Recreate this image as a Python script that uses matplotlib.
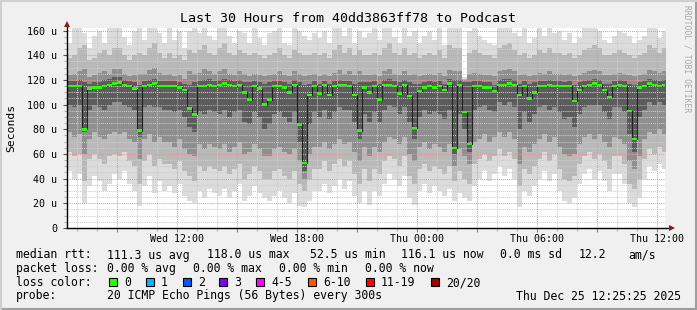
import numpy as np
import matplotlib
matplotlib.use("Agg")
import matplotlib.pyplot as plt
from matplotlib.lines import Line2D
from matplotlib.patches import Rectangle

W, H = 697, 310
mono = "DejaVu Sans Mono"

# 15 minute columns, x in hours since Wed 00:00
t_start = 6.5
step_h = 0.25

median = [115, 115, 115, 80, 113, 114, 114, 115, 116, 117,
          118, 116, 115, 113, 79, 115, 116, 117, 115, 115,
          115, 115, 114, 112, 97, 92, 115, 115, 116, 115,
          116, 117, 116, 115, 116, 110, 104, 115, 113, 100,
          104, 115, 115, 114, 110, 116, 84, 52.5, 108, 115,
          109, 116, 108, 115, 116, 116, 115, 108, 79, 114,
          110, 115, 104, 116, 116, 115, 109, 116, 107, 81,
          111, 114, 115, 114, 115, 112, 117, 65, 116, 94,
          68, 115, 115, 114, 114, 111, 116, 116, 117, 116,
          108, 115, 105, 110, 115, 115, 116, 115, 115, 115,
          115, 103, 112, 115, 116, 117, 116, 112, 106, 115,
          116, 115, 95, 72, 114, 115, 117, 116, 115, 116.1]

# smoke bands (sorted pings): outer min/max ... inner
ping_min = [46, 40, 44, 20, 34, 42, 38, 30, 36, 44,
            40, 46, 36, 30, 18, 34, 42, 28, 38, 30,
            34, 28, 36, 26, 22, 20, 30, 24, 32, 28,
            26, 32, 24, 30, 36, 22, 26, 34, 28, 24,
            22, 26, 30, 24, 20, 28, 18, 17, 22, 30,
            30, 36, 28, 34, 40, 32, 38, 26, 20, 30,
            19, 30, 26, 36, 44, 40, 34, 42, 24, 19,
            30, 36, 28, 34, 30, 26, 32, 22, 28, 24,
            22, 34, 40, 46, 38, 44, 50, 42, 48, 40,
            17, 30, 26, 34, 40, 46, 38, 44, 30, 22,
            20, 24, 36, 44, 48, 40, 46, 38, 30, 44,
            44, 36, 20, 17, 24, 40, 50, 46, 52, 48]
ping_max = [150, 162, 164, 158, 146, 156, 160, 150, 162, 164,
            162, 155, 148, 160, 164, 152, 162, 164, 158, 150,
            162, 152, 160, 146, 160, 164, 158, 164, 156, 152,
            164, 164, 156, 150, 160, 158, 150, 162, 154, 148,
            158, 160, 164, 150, 148, 162, 160, 156, 152, 158,
            154, 160, 150, 162, 164, 156, 162, 150, 160, 154,
            158, 162, 152, 164, 164, 155, 150, 162, 156, 160,
            150, 156, 160, 152, 162, 148, 164, 162, 164, 122,
            160, 162, 156, 152, 150, 148, 162, 164, 164, 158,
            156, 162, 150, 154, 162, 156, 164, 158, 160, 152,
            158, 150, 154, 162, 164, 164, 160, 152, 150, 156,
            160, 158, 156, 150, 152, 156, 164, 162, 154, 160]
band2_lo = [62, 58, 60, 38, 56, 60, 56, 52, 58, 60,
            58, 62, 54, 50, 36, 54, 60, 50, 56, 52,
            52, 48, 54, 46, 42, 38, 50, 46, 50, 48,
            46, 50, 44, 48, 52, 40, 44, 50, 46, 40,
            40, 46, 48, 42, 40, 46, 36, 30, 40, 48,
            48, 54, 46, 52, 56, 50, 54, 44, 36, 48,
            38, 48, 44, 54, 58, 56, 50, 58, 42, 36,
            48, 52, 46, 50, 48, 44, 50, 38, 46, 40,
            36, 52, 56, 60, 54, 58, 64, 58, 62, 56,
            34, 48, 44, 50, 56, 62, 54, 60, 48, 40,
            38, 42, 52, 58, 62, 56, 60, 54, 48, 58,
            58, 52, 36, 32, 40, 56, 64, 60, 66, 62]
band2_hi = [138, 140, 146, 148, 136, 138, 142, 144, 140, 146,
            146, 140, 136, 140, 142, 140, 146, 150, 142, 138,
            142, 138, 140, 136, 144, 142, 144, 148, 142, 140,
            146, 150, 142, 140, 144, 142, 140, 142, 140, 138,
            140, 142, 146, 140, 138, 144, 142, 140, 140, 142,
            140, 142, 138, 144, 148, 142, 146, 140, 144, 140,
            140, 142, 140, 146, 150, 142, 140, 146, 140, 142,
            138, 140, 142, 140, 144, 138, 148, 146, 146, 121,
            142, 144, 142, 140, 140, 138, 146, 148, 150, 144,
            140, 142, 138, 140, 144, 142, 146, 142, 142, 140,
            142, 138, 140, 144, 146, 148, 146, 140, 140, 142,
            144, 142, 140, 138, 140, 142, 148, 146, 142, 146]
band3_lo = [78, 74, 76, 60, 72, 78, 74, 72, 76, 78,
            76, 78, 72, 70, 56, 72, 76, 70, 74, 70,
            70, 66, 72, 64, 60, 58, 68, 64, 68, 66,
            64, 68, 62, 66, 70, 60, 62, 68, 64, 58,
            58, 64, 66, 62, 60, 64, 54, 40, 60, 66,
            66, 70, 64, 68, 72, 68, 70, 62, 54, 66,
            58, 66, 62, 70, 74, 72, 68, 74, 60, 54,
            66, 70, 64, 68, 66, 62, 68, 50, 64, 58,
            52, 70, 72, 76, 70, 74, 78, 74, 78, 72,
            52, 66, 62, 68, 72, 76, 70, 74, 66, 60,
            58, 60, 68, 74, 76, 72, 76, 70, 66, 74,
            72, 68, 54, 48, 58, 72, 78, 76, 80, 76]
band3_hi = [124, 125, 127, 129, 122, 124, 126, 127, 125, 129,
            129, 125, 123, 124, 125, 125, 128, 130, 126, 124,
            125, 123, 124, 121, 127, 125, 126, 129, 127, 125,
            127, 129, 125, 124, 127, 125, 123, 125, 124, 123,
            124, 125, 127, 124, 123, 127, 125, 123, 124, 125,
            123, 125, 123, 126, 128, 125, 127, 124, 127, 124,
            124, 125, 123, 127, 129, 125, 124, 127, 124, 125,
            123, 124, 125, 124, 126, 123, 128, 127, 127, 120,
            125, 126, 125, 124, 124, 123, 127, 128, 129, 127,
            124, 125, 123, 124, 126, 125, 127, 125, 125, 124,
            125, 123, 124, 126, 127, 128, 127, 124, 124, 125,
            126, 125, 124, 123, 124, 125, 128, 127, 126, 127]
core_lo = [100, 98, 100, 78, 96, 100, 98, 96, 100, 102,
           102, 100, 98, 96, 74, 98, 100, 98, 98, 96,
           96, 94, 96, 90, 82, 78, 94, 92, 96, 94,
           92, 96, 90, 94, 96, 86, 84, 94, 90, 80,
           84, 92, 94, 90, 86, 94, 70, 46, 84, 94,
           90, 96, 88, 94, 98, 96, 96, 86, 72, 92,
           86, 94, 86, 96, 100, 98, 92, 98, 86, 72,
           90, 96, 92, 94, 92, 88, 96, 60, 92, 80,
           62, 96, 98, 100, 96, 94, 102, 100, 102, 98,
           80, 94, 86, 92, 98, 100, 96, 98, 94, 88,
           90, 82, 92, 98, 100, 100, 100, 94, 88, 98,
           98, 94, 76, 62, 90, 96, 102, 100, 102, 100]
core_hi = [119, 119, 120, 118, 117, 118, 118, 120, 121, 122,
           122, 120, 119, 118, 116, 119, 120, 121, 119, 119,
           119, 119, 118, 117, 116, 118, 119, 120, 121, 119,
           120, 121, 120, 119, 120, 118, 118, 119, 118, 117,
           118, 119, 119, 118, 117, 120, 118, 116, 117, 119,
           117, 119, 117, 119, 120, 119, 119, 117, 118, 118,
           118, 119, 117, 120, 121, 119, 118, 120, 118, 117,
           117, 118, 119, 118, 119, 117, 121, 120, 120, 118,
           118, 119, 119, 118, 118, 116, 120, 121, 121, 120,
           117, 119, 117, 118, 119, 119, 120, 119, 119, 118,
           119, 116, 118, 119, 120, 121, 120, 117, 117, 119,
           120, 119, 117, 116, 118, 119, 121, 120, 119, 120]

smoke_layers = [(ping_min, ping_max, "#dcdcdc"),
                (band2_lo, band2_hi, "#b9b9b9"),
                (band3_lo, band3_hi, "#8f8f8f"),
                (core_lo, core_hi, "#5c5c5c")]

ytick_vals = [0, 20, 40, 60, 80, 100, 120, 140, 160]
ytick_text = ["0", "20 u", "40 u", "60 u", "80 u", "100 u", "120 u", "140 u", "160 u"]
xtick_vals = [12, 18, 24, 30, 36]
xtick_text = ["Wed 12:00", "Wed 18:00", "Thu 00:00", "Thu 06:00", "Thu 12:00"]

legend_rows = [
    (255, [("median rtt:", 16), ("111.3 us avg", 107), ("118.0 us max", 207),
           ("52.5 us min", 310), ("116.1 us now", 401), ("0.0 ms sd", 500),
           ("12.2", 579), ("am/s", 628)]),
    (268.5, [("packet loss:", 16), ("0.00 % avg", 107), ("0.00 % max", 193),
             ("0.00 % min", 279), ("0.00 % now", 365)]),
    (282.5, [("loss color:", 16)]),
    (296, [("probe:", 16), ("20 ICMP Echo Pings (56 Bytes) every 300s", 107)]),
]
loss_labels = ["0", "1", "2", "3", "4-5", "6-10", "11-19", "20/20"]
loss_colors = ["#26ff00", "#00b8ff", "#0059ff", "#7e00ff", "#ff00ff", "#ff5500", "#ff0000", "#a10000"]
loss_box_x = [109, 146, 183, 219, 256, 308, 366, 431]
loss_text_x = [124, 161, 198, 234, 271, 323, 381, 446]


def fx(x):
    return x / W


def fy(y):
    return 1 - y / H


fig = plt.figure(figsize=(W / 100, H / 100), dpi=100, facecolor="#f0f0f0")
ax = fig.add_axes([fx(67), fy(228), fx(665) - fx(67), fy(28) - fy(228)])
ax.set_facecolor("white")

times = t_start + step_h * np.arange(len(median))
edges = np.append(times, times[-1] + step_h)


def ext(a):
    a = np.asarray(a, dtype=float)
    return np.append(a, a[-1])


for lo, hi, col in smoke_layers:
    ax.fill_between(edges, ext(lo), ext(hi), step="post", color=col, lw=0, zorder=1)

ax.step(edges, ext(median), where="post", color="#202020", lw=0.8, zorder=4)
med = np.asarray(median, dtype=float)
ax.bar(times, 2.0, bottom=med - 1.0, width=step_h, align="edge", color="#26ff00",
       lw=0, zorder=5)

ax.set_xlim(6.5, 36.4)
ax.set_ylim(0, 162.1)
for s in ax.spines.values():
    s.set_visible(False)

ax.set_yticks(ytick_vals)
ax.set_yticklabels(ytick_text, fontfamily=mono, fontsize=7.2)
ax.set_yticks(np.arange(5, 162, 5), minor=True)
ax.set_xticks(np.arange(9, 37, 3))
ax.set_xticklabels([xtick_text[xtick_vals.index(v)] if v in xtick_vals else ""
                    for v in range(9, 37, 3)], fontfamily=mono, fontsize=7.2)
ax.set_xticks(np.arange(7, 37, 1), minor=True)
ax.tick_params(which="major", length=3, width=0.8, color="#c07070", pad=1.5)
ax.tick_params(which="minor", length=2, width=0.8, color="#b0b0b0")
ax.tick_params(axis="y", which="major", color="#555555", pad=4)
ax.set_axisbelow(False)
ax.grid(which="major", color="#e09a9a", lw=0.75, ls=(0, (1, 1)), zorder=3)
ax.grid(which="minor", color="#cdcdcd", lw=0.75, ls=(0, (1, 1)), zorder=3)

# axes with arrows
ax.plot([6.5, 6.5], [0, 164], color="black", lw=1, clip_on=False, zorder=6)
ax.plot([6.5, 36.7], [0, 0], color="black", lw=1, clip_on=False, zorder=6)
ax.plot([6.5], [165.3], marker="^", ms=4.5, color="#8b1a1a", mew=0, clip_on=False, zorder=6)
ax.plot([36.75], [0], marker=">", ms=4.5, color="#8b1a1a", mew=0, clip_on=False, zorder=6)

fig.text(fx(348), fy(18), "Last 30 Hours from 40dd3863ff78 to Podcast",
         family=mono, fontsize=9.6, ha="center", va="center")
fig.text(fx(11), fy(128), "Seconds", family=mono, fontsize=8.2, rotation=90,
         ha="center", va="center")
fig.text(fx(687), fy(5), "RRDTOOL / TOBI OETIKER", family=mono, fontsize=5.8,
         rotation=270, ha="center", va="top", color="#a8a8a8")

for y, items in legend_rows:
    for txt, x in items:
        fig.text(fx(x), fy(y), txt, family=mono, fontsize=8.3, ha="left", va="center")
fig.text(fx(681), fy(296), "Thu Dec 25 12:25:25 2025", family=mono, fontsize=8.3,
         ha="right", va="center")

for bx, tx, lab, col in zip(loss_box_x, loss_text_x, loss_labels, loss_colors):
    fig.add_artist(Rectangle((fx(bx), fy(286)), 8 / W, 8 / H, transform=fig.transFigure,
                             facecolor=col, edgecolor="black", lw=0.8))
    fig.text(fx(tx), fy(282.5), lab, family=mono, fontsize=8.3, ha="left", va="center")

# 3d frame
fig.add_artist(Line2D([0, 1], [fy(309), fy(309)], transform=fig.transFigure, color="#9e9e9e", lw=1.5))
fig.add_artist(Line2D([fx(696), fx(696)], [0, 1], transform=fig.transFigure, color="#9e9e9e", lw=1.5))
fig.add_artist(Line2D([0, 1], [fy(0.5), fy(0.5)], transform=fig.transFigure, color="#cfcfcf", lw=1.5))
fig.add_artist(Line2D([fx(0.5), fx(0.5)], [0, 1], transform=fig.transFigure, color="#cfcfcf", lw=1.5))

fig.savefig("out.png", dpi=100, facecolor=fig.get_facecolor())
